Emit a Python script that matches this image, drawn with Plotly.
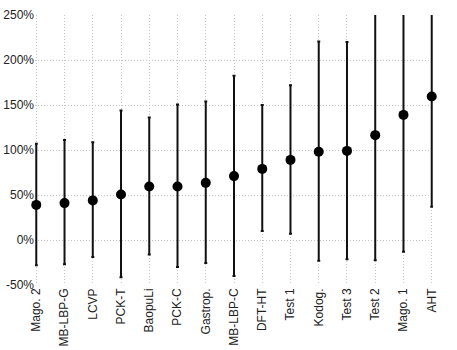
import plotly.graph_objects as go

categories = ["Mago. 2", "MB-LBP-G", "LCVP", "PCK-T", "BaopuLi", "PCK-C", "Gastrop.",
              "MB-LBP-C", "DFT-HT", "Test 1", "Kodog.", "Test 3", "Test 2", "Mago. 1", "AHT"]
means = [39, 41, 44, 50.5, 59.5, 59.5, 63.5, 71, 79, 89, 98, 99, 116.5, 139, 159.5]
upper = [107, 111, 108.5, 144, 136, 150.5, 154, 182.5, 150, 172, 220.5, 220, 275, 275, 275]
lower = [-28, -27, -19, -41.5, -16, -30, -25.5, -40, 10, 7, -23, -21.5, -22.5, -13, 37]
yticks = [-50, 0, 50, 100, 150, 200, 250]
yticklabels = [f"{v}%" for v in yticks]

x = list(range(len(categories)))
err_plus = [u - m for u, m in zip(upper, means)]
err_minus = [m - l for m, l in zip(means, lower)]

fig = go.Figure()
fig.add_trace(go.Scatter(
    x=x, y=means, mode="markers",
    marker=dict(size=1, color="rgba(0,0,0,0)"),
    error_y=dict(type="data", symmetric=False, array=err_plus, arrayminus=err_minus,
                 color="#111111", thickness=2, width=1.5),
    cliponaxis=True, hoverinfo="skip", showlegend=False,
))
fig.add_trace(go.Scatter(
    x=x, y=means, mode="markers",
    marker=dict(size=10, color="#000000"),
    cliponaxis=False, showlegend=False,
))

n = len(categories)
fig.update_layout(
    width=457, height=350,
    margin=dict(l=35, r=24, t=15, b=65),
    paper_bgcolor="white", plot_bgcolor="white",
    font=dict(family="Liberation Sans, Arial, sans-serif", size=12, color="#222222"),
    xaxis=dict(
        range=[-0.045, n - 1 + 0.045], tickmode="array", tickvals=x, ticktext=categories,
        tickangle=-90, showgrid=True, gridcolor="#c4c4c4", griddash="1px,2px", gridwidth=1,
        zeroline=False, showline=False, ticks="", automargin=False,
        tickfont=dict(size=12, color="#222222"),
    ),
    yaxis=dict(
        range=[-50, 250], tickmode="array", tickvals=yticks, ticktext=yticklabels,
        showgrid=True, gridcolor="#c4c4c4", griddash="1px,2px", gridwidth=1,
        zeroline=False, showline=False, ticks="", automargin=False,
        tickfont=dict(size=12, color="#222222"),
    ),
)

fig.write_html("out.html")
